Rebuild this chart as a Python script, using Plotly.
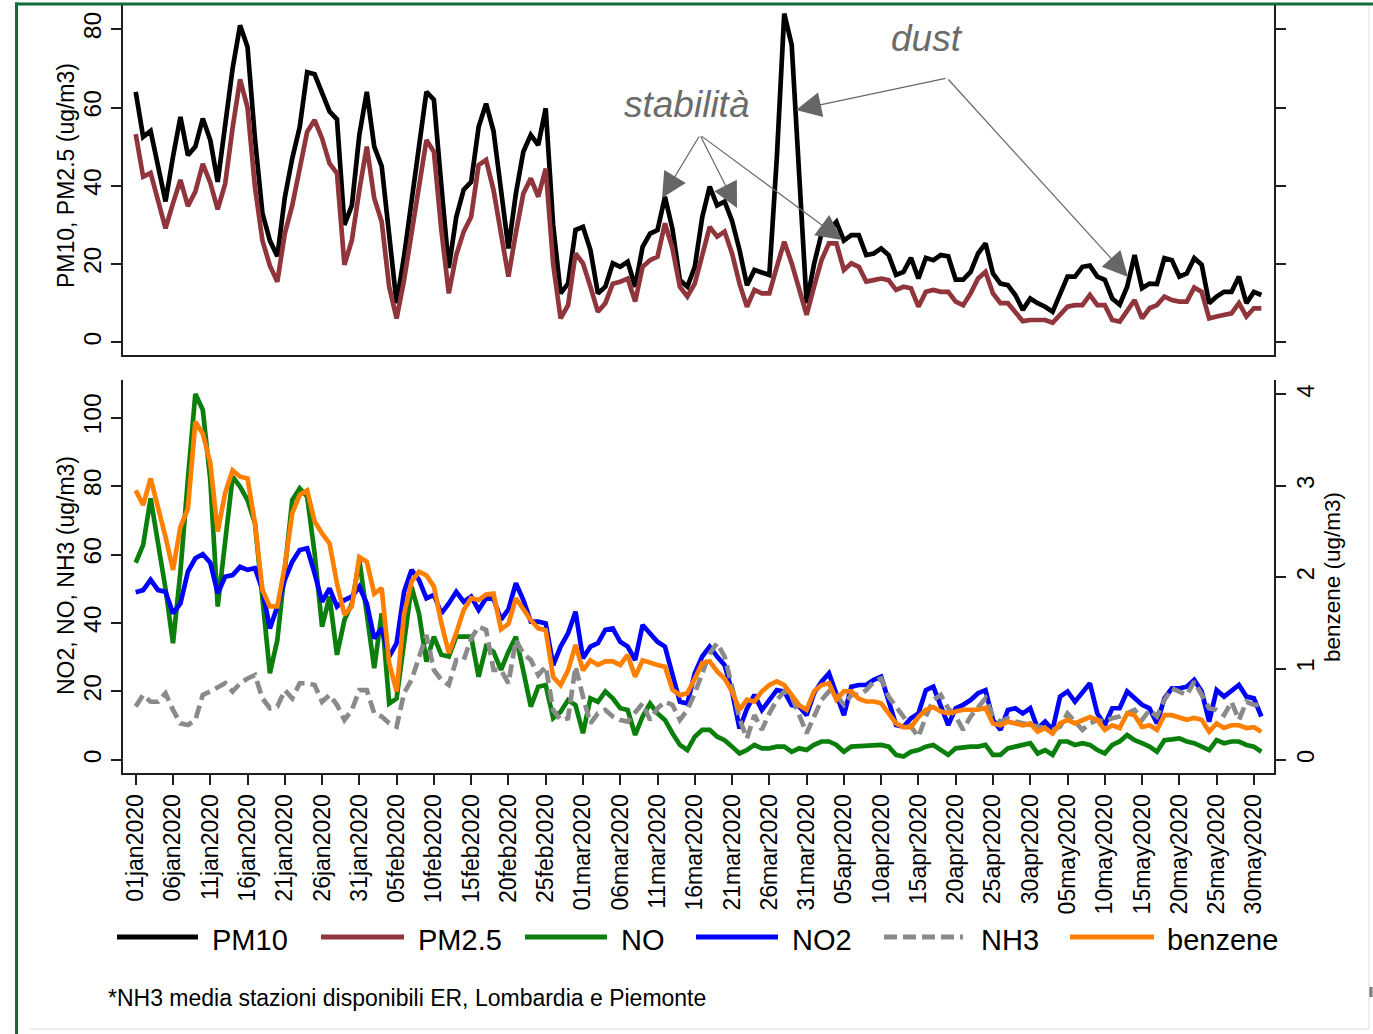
import pandas as pd
import plotly.graph_objects as go

W, H = 1373, 1034
FONT = "Liberation Sans, Arial, sans-serif"

# ---------------- data ----------------
start_date = "2020-01-01"
n_days = 152
dates = pd.date_range(start_date, periods=n_days, freq="D")

pm10 = [64, 52.5, 54, 45, 36, 47.4, 57.6, 47.8, 50, 57.2,
        51.7, 41, 56, 70, 81, 75.5, 52, 33, 26, 22,
        37, 47, 55, 69, 68.5, 64, 59, 57, 30, 35,
        53, 64, 50, 45, 27, 10, 22, 35, 50, 64,
        62, 40, 19, 32, 39, 41, 55, 61, 54, 39,
        24, 38, 48.7, 53, 50.4, 59.8, 30, 12.5, 15, 28.7,
        29.5, 23.6, 12.5, 14.2, 20.2, 19.3, 20.6, 14.2, 24.4, 27.8,
        28.7, 37.2, 29, 15.9, 14.2, 19.3, 32, 39.8, 35, 36,
        31, 23.6, 14.6, 18.5, 18, 17.2, 47, 84, 76, 43,
        10, 20, 27.8, 28.7, 30.8, 26, 27.4, 27.4, 22.3, 22.7,
        24, 22.3, 17.2, 18, 21.6, 16.3, 21.6, 21, 22.3, 22,
        16, 16, 18, 22.7, 25.3, 17.6, 15, 14.6, 12.1, 8.3,
        11.2, 10, 9.1, 7.8, 12.5, 16.8, 16.8, 19.3, 19.6, 16.8,
        16, 11.2, 9.6, 14.2, 22.3, 13.8, 15, 14.9, 21.5, 21,
        16.8, 17.6, 21.5, 19.8, 10, 11.7, 12.9, 12.9, 16.8, 10,
        12.9, 12.1]

pm25 = [53.2, 42.3, 43.3, 36.4, 29.1, 35.5, 41.5, 34.8, 38.5, 45.6,
        40.8, 34, 40.5, 54.8, 67.2, 60, 39.6, 26, 19.6, 15.5,
        27.8, 35, 44.9, 53.8, 56.8, 52.1, 45.7, 43.2, 19.8, 26.1,
        38.9, 50, 36.8, 30.8, 14.2, 6.1, 15.9, 27.8, 39.8, 51.7,
        48.7, 28.7, 12.5, 22.3, 28.3, 32.1, 45.3, 46.6, 38.9, 27,
        16.8, 28, 38, 41.9, 37.2, 44.4, 20, 6.1, 9.5, 22.7,
        20.2, 14.2, 7.8, 10, 15, 15.5, 16.3, 10.4, 19.3, 21,
        21.9, 30.4, 24, 14.2, 11.7, 15, 22.7, 29.5, 27, 28.3,
        22.7, 15, 9.1, 13.4, 12.5, 12.5, 19.3, 25.7, 20.2, 13.4,
        7, 14.2, 21, 25.3, 25.3, 18.5, 20.2, 19.3, 15.5, 15.9,
        16.3, 15.9, 13.4, 14.2, 13.8, 9.1, 12.9, 13.4, 12.9, 12.9,
        10.4, 9.5, 12.5, 16.3, 18, 12.5, 10, 10, 7.8, 5.4,
        5.7, 5.7, 5.7, 5, 7, 9.1, 9.5, 9.5, 12.1, 9.5,
        9.5, 5.7, 5.3, 8.3, 10.8, 6.1, 8.7, 9.5, 11.7, 10.8,
        10.4, 10.4, 14, 12.9, 6.1, 6.6, 7, 7.4, 10, 6.6,
        8.7, 8.7]

no = [57.6, 62.8, 76.4, 64, 50, 34.1, 55, 82, 106.9, 102.2,
      82, 44.8, 63, 82.7, 79.8, 75.9, 69.1, 48.7, 25.3, 35,
      56.4, 75.9, 79.3, 76.9, 60.3, 38.9, 47.7, 30.7, 40.9, 45.7,
      58.4, 42.8, 26.8, 42.8, 16.5, 18, 35, 50.6, 42.8, 28.7,
      36, 30.7, 30.2, 36, 36, 36, 24.3, 33.1, 31.6, 26.3,
      31.6, 36, 26, 15.6, 21.4, 21.9, 12.2, 14.1, 17.5, 16,
      7.8, 18, 17, 20, 18, 15.1, 14.6, 7.3, 12.7, 16.5,
      13.6, 11.7, 7.8, 4.4, 2.9, 6.8, 8.8, 8.8, 6.8, 5.8,
      3.9, 1.9, 2.9, 4.4, 3.4, 3.4, 3.9, 3.9, 2.4, 3.4,
      2.9, 4.4, 5.4, 5.4, 4.4, 2.4, 3.9, 4.1, 4.1, 4.2,
      4.4, 3.9, 1.5, 1, 2.4, 2.9, 3.9, 4.4, 2.9, 1.5,
      3.4, 3.7, 3.9, 3.9, 4.4, 1.5, 1.5, 3.4, 3.9, 4.4,
      4.9, 1.9, 2.9, 1.5, 5.4, 5.4, 4.4, 4.9, 4.4, 2.9,
      1.9, 4.4, 5.4, 7.3, 5.8, 4.9, 3.9, 2.4, 5.8, 6,
      6.3, 5.4, 4.9, 3.9, 2.9, 5.8, 4.9, 5.4, 5.4, 4.4,
      3.9, 2.4]

no2 = [49, 49.6, 52.6, 49.6, 49.1, 42.8, 45.7, 55, 58.9, 60.1,
       57.6, 48.7, 53.5, 54, 56.4, 55.5, 56, 49.6, 38.4, 44.8,
       52.6, 57.9, 61.3, 61.8, 54.5, 46.2, 50.1, 44.8, 46.7, 47.7,
       50.6, 45.7, 35.5, 38.4, 30.2, 34.1, 49.1, 55.5, 52.6, 47.2,
       48.2, 42.8, 45.7, 49.1, 46.2, 47.7, 43.8, 47.2, 47, 41,
       44, 51.6, 46.7, 40.4, 40.4, 39.9, 27.7, 33.1, 37, 43.3,
       29.7, 33.1, 34.1, 38, 38.4, 34.5, 33.1, 29.2, 39.4, 37,
       34.5, 33.1, 25.3, 17, 16.5, 25.3, 30.2, 33.1, 30.2, 27.7,
       20, 9.2, 15, 19, 14.6, 17.5, 20.4, 20, 16, 15.6,
       13.1, 19.5, 22.9, 25.3, 19.5, 13.1, 21.4, 21.9, 21.9, 23.4,
       24.3, 17.5, 10.2, 9.7, 12.2, 13.6, 20.4, 21.4, 16.1, 10.2,
       15.1, 16.1, 17.5, 19.5, 20.4, 11.7, 8.8, 14.6, 15.1, 13.6,
       15.1, 9.2, 11.2, 8.8, 18.5, 20, 17, 19.5, 22.4, 13.6,
       10.2, 15.1, 15.1, 20, 18, 16.1, 15.1, 10.7, 18, 20.9,
       20.9, 21.4, 23.4, 20, 11.2, 20.4, 18.5, 20, 21.9, 18.5,
       18, 12.7]

nh3 = [15.6, 19, 17, 17, 19.5, 14.6, 10.7, 10.2, 11.7, 19,
       20, 21.4, 22.4, 20, 22.4, 23.8, 24.8, 18, 15.1, 15.6,
       20.4, 18, 22.4, 22.4, 21.9, 17, 19, 16.1, 11.7, 14.6,
       20.4, 20.4, 13.6, 12.7, 10.7, 9.7, 19.5, 23.4, 29.7, 36.5,
       26.3, 23.4, 21.9, 29.2, 29.2, 35.5, 38.9, 38, 26.3, 26.3,
       22.4, 35, 31.1, 29.2, 24.8, 27.3, 14.6, 11.7, 12.2, 27.3,
       18.5, 10.7, 13.6, 14.6, 12.7, 11.7, 11.2, 13.6, 16.5, 11.7,
       15.1, 17, 16.1, 11.7, 14.6, 19.5, 25.3, 31.1, 34.1, 30.2,
       21.4, 12, 6.3, 13.1, 8.8, 13.6, 17.5, 20, 18.5, 13,
       7.8, 12.7, 17.5, 20, 19, 16.1, 19, 19, 20.4, 22.9,
       23.8, 18.5, 15.6, 12.7, 9.7, 6.8, 12.7, 17.5, 19, 15.1,
       12.7, 8.8, 12.7, 15.1, 18, 12.7, 11.2, 12.2, 11.2, 10.7,
       10.2, 9.7, 9.2, 8.8, 9.7, 13.6, 11.2, 8.8, 10.7, 11.7,
       11.2, 12.2, 12.7, 13.6, 14.6, 11.7, 14.6, 12.7, 17.5, 20.9,
       20, 19, 22.9, 19, 15.1, 14.6, 13.1, 17, 11.7, 17,
       16.1, 16.1]

benzene = [2.95, 2.79, 3.08, 2.77, 2.44, 2.08, 2.55, 2.75, 3.70, 3.57,
           3.25, 2.50, 2.92, 3.17, 3.10, 3.08, 2.59, 1.86, 1.68, 1.68,
           2.12, 2.70, 2.90, 2.95, 2.61, 2.48, 2.37, 1.93, 1.59, 1.68,
           2.22, 2.17, 1.82, 1.88, 1.06, 0.75, 1.60, 1.95, 2.06, 2.02,
           1.90, 1.50, 1.17, 1.39, 1.64, 1.77, 1.75, 1.81, 1.82, 1.43,
           1.49, 1.77, 1.64, 1.53, 1.44, 1.42, 0.91, 0.82, 0.98, 1.26,
           0.98, 1.09, 1.04, 1.08, 1.08, 1.04, 1.15, 0.91, 1.09, 1.06,
           1.04, 1.02, 0.77, 0.71, 0.73, 0.89, 1.06, 1.08, 0.97, 0.89,
           0.75, 0.55, 0.66, 0.64, 0.75, 0.82, 0.86, 0.82, 0.71, 0.60,
           0.55, 0.75, 0.82, 0.84, 0.66, 0.75, 0.75, 0.67, 0.64, 0.64,
           0.62, 0.51, 0.40, 0.36, 0.36, 0.47, 0.55, 0.58, 0.53, 0.51,
           0.53, 0.55, 0.55, 0.55, 0.57, 0.40, 0.38, 0.42, 0.40, 0.38,
           0.40, 0.31, 0.35, 0.29, 0.40, 0.44, 0.40, 0.44, 0.47, 0.44,
           0.33, 0.38, 0.35, 0.51, 0.49, 0.36, 0.38, 0.33, 0.49, 0.49,
           0.47, 0.44, 0.46, 0.44, 0.31, 0.40, 0.35, 0.38, 0.38, 0.35,
           0.36, 0.31]

tick_dates = pd.date_range("2020-01-01", "2020-05-30", freq="5D")
tick_labels = ["01jan2020", "06jan2020", "11jan2020", "16jan2020", "21jan2020",
               "26jan2020", "31jan2020", "05feb2020", "10feb2020", "15feb2020",
               "20feb2020", "25feb2020", "01mar2020", "06mar2020", "11mar2020",
               "16mar2020", "21mar2020", "26mar2020", "31mar2020", "05apr2020",
               "10apr2020", "15apr2020", "20apr2020", "25apr2020", "30apr2020",
               "05may2020", "10may2020", "15may2020", "20may2020", "25may2020",
               "30may2020"]

pm_ticks = [0, 20, 40, 60, 80]
gas_ticks = [0, 20, 40, 60, 80, 100]
benz_ticks = [0, 1, 2, 3, 4]

series_names = ["PM10", "PM2.5", "NO", "NO2", "NH3", "benzene"]
series_colors = ["#000000", "#90353b", "#0b7f0b", "#0000ff", "#8a8a8a", "#ff8000"]

for s in (pm10, pm25, no, no2, nh3, benzene):
    assert len(s) == n_days

# ---------------- helpers (pixel -> paper) ----------------
def px(x):
    return x / W

def py(y):
    return 1 - y / H

t0 = pd.Timestamp(start_date)
x_range = [str(t0 + pd.Timedelta(days=-1.745)), str(t0 + pd.Timedelta(days=152.7))]

LW = 4.7
fig = go.Figure()
fig.add_trace(go.Scatter(x=dates, y=pm10, mode="lines", name="PM10",
                         line=dict(color=series_colors[0], width=LW), xaxis="x", yaxis="y"))
fig.add_trace(go.Scatter(x=dates, y=pm25, mode="lines", name="PM2.5",
                         line=dict(color=series_colors[1], width=LW), xaxis="x", yaxis="y"))
fig.add_trace(go.Scatter(x=dates, y=no, mode="lines", name="NO",
                         line=dict(color=series_colors[2], width=LW), xaxis="x2", yaxis="y2"))
fig.add_trace(go.Scatter(x=dates, y=no2, mode="lines", name="NO2",
                         line=dict(color=series_colors[3], width=LW), xaxis="x2", yaxis="y2"))
fig.add_trace(go.Scatter(x=dates, y=nh3, mode="lines", name="NH3",
                         line=dict(color=series_colors[4], width=LW, dash="13px,6px"),
                         xaxis="x2", yaxis="y2"))
fig.add_trace(go.Scatter(x=dates, y=benzene, mode="lines", name="benzene",
                         line=dict(color=series_colors[5], width=LW), xaxis="x2", yaxis="y3"))

AX = "#1e1e1e"
ytickfont = dict(family=FONT, size=24.5, color="#000")
rtickfont = dict(family=FONT, size=23.5, color="#000")
xtickfont = dict(family=FONT, size=23, color="#000")
xdom = [px(122.7), px(1274)]

fig.update_layout(
    width=W, height=H, autosize=False,
    margin=dict(l=0, r=0, t=0, b=0),
    paper_bgcolor="white", plot_bgcolor="white",
    showlegend=False,
    font=dict(family=FONT, color="#000"),
    xaxis=dict(domain=xdom, anchor="y", type="date", range=x_range,
               showline=True, linecolor=AX, linewidth=2, mirror=False,
               showticklabels=False, ticks="", showgrid=False, zeroline=False),
    yaxis=dict(domain=[py(355), py(5)], anchor="x", range=[-3.24, 86.2],
               tickvals=pm_ticks, ticks="outside", ticklen=10, tickwidth=2,
               tickcolor=AX, showline=True, linecolor=AX, linewidth=2,
               mirror="ticks", tickangle=-90, tickfont=ytickfont,
               showgrid=False, zeroline=False),
    xaxis2=dict(domain=xdom, anchor="y2", type="date", range=x_range,
                tickvals=tick_dates, ticktext=tick_labels, tickangle=-90,
                ticks="outside", ticklen=10, tickwidth=2, tickcolor=AX,
                showline=True, linecolor=AX, linewidth=2, tickfont=xtickfont,
                showgrid=False, zeroline=False),
    yaxis2=dict(domain=[py(773), py(380)], anchor="x2", range=[-3.8, 110.95],
                tickvals=gas_ticks, ticks="outside", ticklen=10, tickwidth=2,
                tickcolor=AX, showline=True, linecolor=AX, linewidth=2,
                tickangle=-90, tickfont=ytickfont, showgrid=False, zeroline=False),
    yaxis3=dict(overlaying="y2", anchor="x2", side="right", range=[-0.1422, 4.1575],
                tickvals=benz_ticks, ticks="outside", ticklen=10, tickwidth=2,
                tickcolor=AX, showline=True, linecolor=AX, linewidth=2,
                tickangle=-90, tickfont=rtickfont, showgrid=False, zeroline=False),
)

annotations = []
# axis titles
title_font = dict(family=FONT, size=23, color="#000")
annotations.append(dict(text="PM10, PM2.5 (ug/m3)", x=px(66), y=py(176), xref="paper", yref="paper",
                        showarrow=False, textangle=-90, font=title_font,
                        xanchor="center", yanchor="middle"))
annotations.append(dict(text="NO2, NO, NH3 (ug/m3)", x=px(66), y=py(576), xref="paper", yref="paper",
                        showarrow=False, textangle=-90, font=title_font,
                        xanchor="center", yanchor="middle"))
annotations.append(dict(text="benzene (ug/m3)", x=px(1332), y=py(577), xref="paper", yref="paper",
                        showarrow=False, textangle=-90, font=dict(family=FONT, size=22.5, color="#000"),
                        xanchor="center", yanchor="middle"))

# callout text
GRAY_TXT = "#6b6b6b"
annotations.append(dict(text="<i>stabilità</i>", x=px(686), y=py(105), xref="paper", yref="paper",
                        showarrow=False, font=dict(family=FONT, size=37, color=GRAY_TXT),
                        xanchor="center", yanchor="middle"))
annotations.append(dict(text="<i>dust</i>", x=px(927), y=py(38), xref="paper", yref="paper",
                        showarrow=False, font=dict(family=FONT, size=37, color=GRAY_TXT),
                        xanchor="center", yanchor="middle"))

# callout arrows: (tail_px, tip_px)
arrows = [((700, 135), (662, 198)),
          ((700, 135), (737, 208)),
          ((700, 135), (842, 240)),
          ((947, 78), (796, 110)),
          ((947, 78), (1128, 277))]
for (tx, ty), (hx, hy) in arrows:
    annotations.append(dict(text="", x=px(hx), y=py(hy), xref="paper", yref="paper",
                            ax=tx - hx, ay=ty - hy, showarrow=True, arrowhead=2,
                            arrowsize=4.2, arrowwidth=1.2, arrowcolor="#666666", standoff=0))

# legend (manual)
leg_y = 937
legend_items = [(117, 198, 210), (321, 404, 416), (525, 607, 619),
                (696, 778, 790), (884, 963, 979), (1070, 1154, 1165)]
shapes = []
for (x0, x1, tx), name, col in zip(legend_items, series_names, series_colors):
    shapes.append(dict(type="line", xref="paper", yref="paper", x0=px(x0), x1=px(x1),
                       y0=py(leg_y), y1=py(leg_y),
                       line=dict(color=col, width=5, dash="13px,6px" if name == "NH3" else "solid")))
    annotations.append(dict(text=name, x=px(tx), y=py(leg_y + 3), xref="paper", yref="paper",
                            showarrow=False, font=dict(family=FONT, size=29, color="#000"),
                            xanchor="left", yanchor="middle"))

annotations.append(dict(text="*NH3 media stazioni disponibili ER, Lombardia e Piemonte",
                        x=px(106), y=py(998), xref="paper", yref="paper", showarrow=False,
                        font=dict(family=FONT, size=23, color="#000"),
                        xanchor="left", yanchor="middle"))

# frame
GREEN = "#0f6d3b"
shapes.append(dict(type="line", xref="paper", yref="paper", x0=px(16.5), x1=px(16.5),
                   y0=0, y1=py(2.5), line=dict(color=GREEN, width=3)))
shapes.append(dict(type="line", xref="paper", yref="paper", x0=px(15), x1=1,
                   y0=py(4), y1=py(4), line=dict(color=GREEN, width=3)))
shapes.append(dict(type="line", xref="paper", yref="paper", x0=px(1369), x1=px(1369),
                   y0=py(1029), y1=py(6), line=dict(color="#e8e8e8", width=1.5)))
shapes.append(dict(type="line", xref="paper", yref="paper", x0=px(30), x1=px(1369),
                   y0=py(1029), y1=py(1029), line=dict(color="#e6e6e6", width=1.5)))
shapes.append(dict(type="line", xref="paper", yref="paper", x0=px(1371), x1=px(1371),
                   y0=py(987), y1=py(997), line=dict(color="#777777", width=3)))

fig.update_layout(annotations=annotations, shapes=shapes)
fig.write_html("out.html")
